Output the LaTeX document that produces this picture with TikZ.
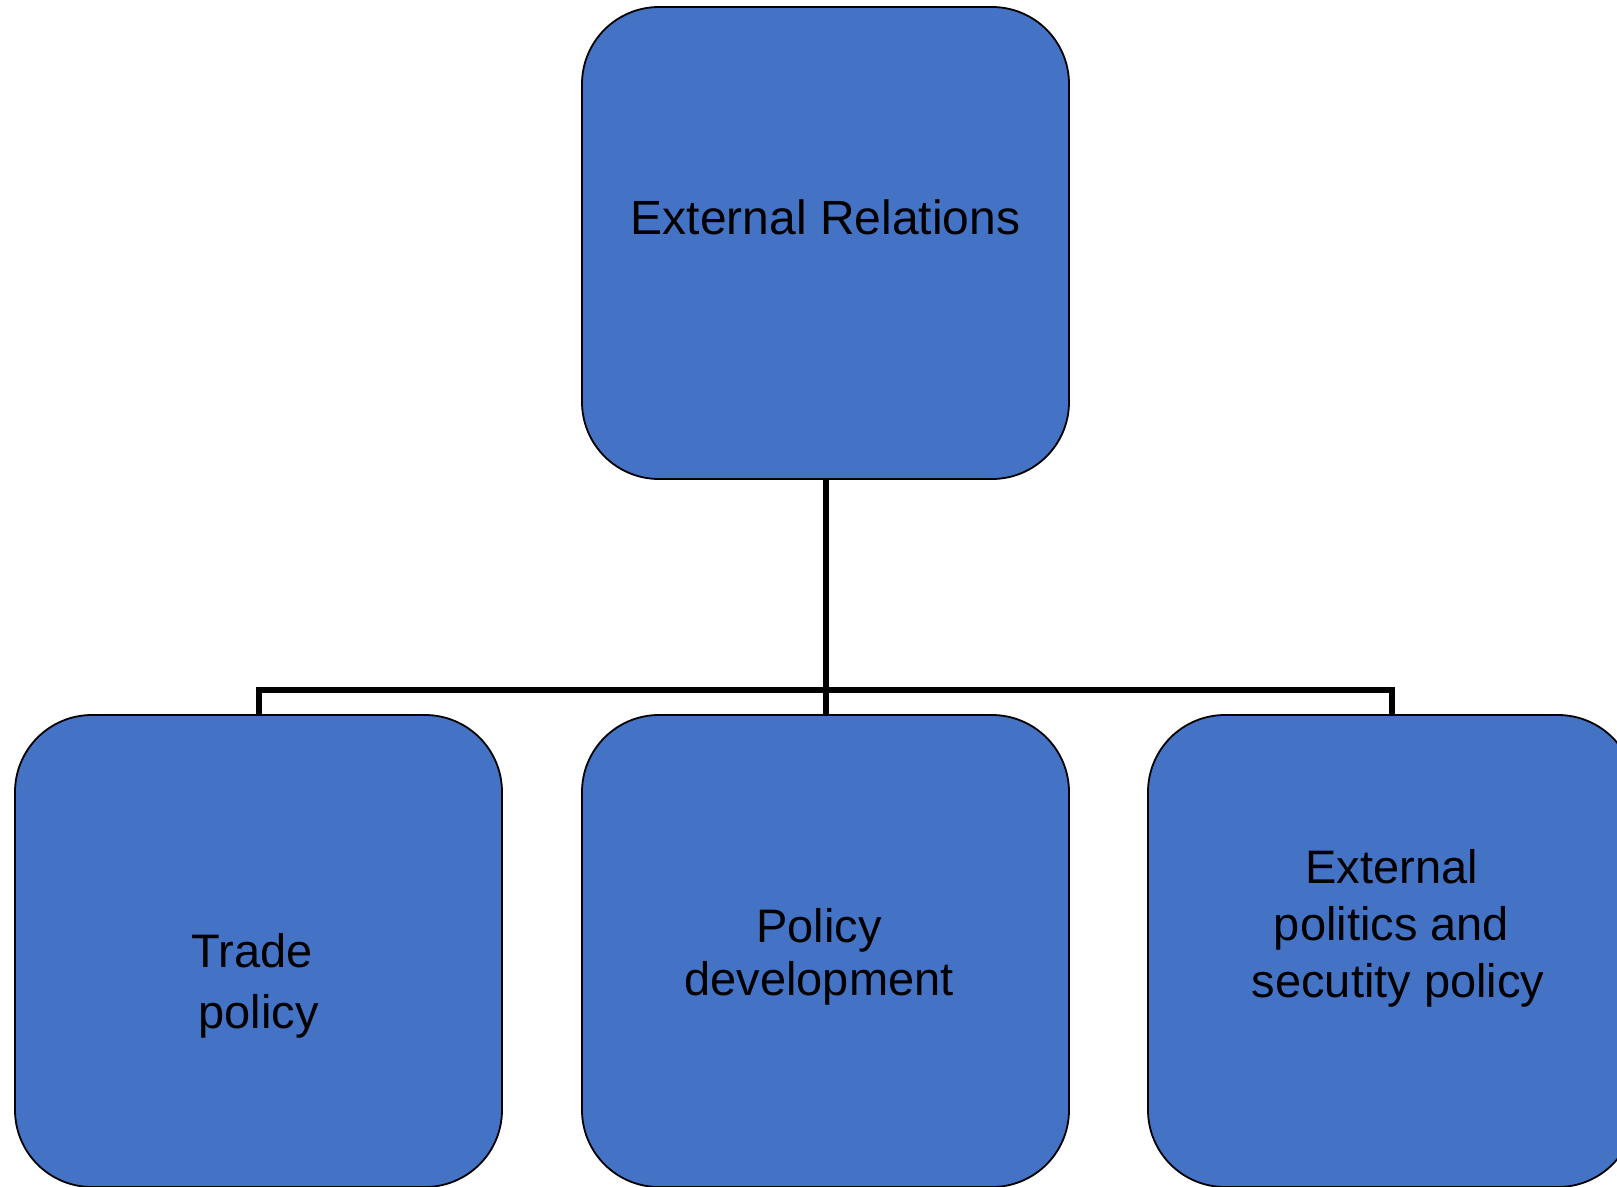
\documentclass[tikz,border=0pt]{standalone}
\usepackage{fontspec}
\setmainfont{Liberation Sans}
\definecolor{boxblue}{HTML}{4472C4}
\begin{document}
\begin{tikzpicture}[x=1pt,y=-1pt,
  box/.style={draw=black, line width=1.8pt, fill=boxblue, rounded corners=77pt,
    minimum width=487pt, minimum height=472pt, inner sep=0pt},
  conn/.style={draw=black, line width=6pt, line join=miter},
  lbl/.style={inner sep=0pt, align=center, text=black, anchor=base}]
\useasboundingbox (0,0) rectangle (1617,1186);
\node[box] (top) at (825.5,243) {};
\node[box] (trade) at (258.5,951) {};
\node[box] (dev) at (825.5,951) {};
\node[box] (ext) at (1391.5,951) {};
\coordinate (bar) at (825.5,690);
\draw[conn] (top.south) -- (dev.north);
\draw[conn] (trade.north) |- (bar) -| (ext.north);
\node[lbl, font=\fontsize{48}{58}\selectfont] (toplbl) at (825.5,234) {External Relations};
\node[lbl, font=\fontsize{47}{61}\selectfont] (tradelbl) at (258.5,1028) {Trade\hbox to 13pt{}\\policy};
\node[lbl, font=\fontsize{47}{53}\selectfont] (devlbl) at (825.5,995) {Policy\hbox to 13pt{}\\development\hbox to 13pt{}};
\node[lbl, font=\fontsize{47}{57}\selectfont] (extlbl) at (1391.5,997) {External\\politics and\\\hbox to 13pt{}secutity policy};
\end{tikzpicture}
\end{document}
